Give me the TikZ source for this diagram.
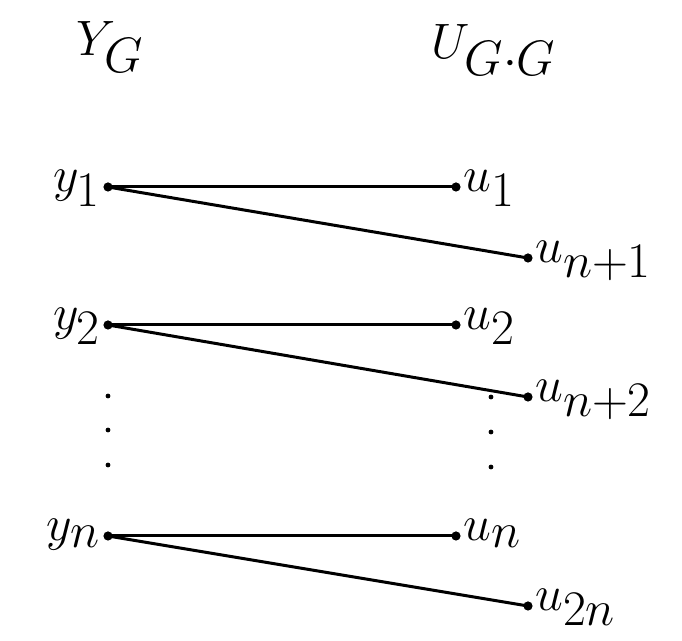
\documentclass[tikz,border=0pt]{standalone}
\usetikzlibrary{positioning}
\DeclareMathSizes{28}{28}{24}{16}
\DeclareMathSizes{34}{34}{26}{18}
\begin{document}
\begin{tikzpicture}[
  x=0.5pt, y=-0.5pt,
  dot/.style={circle, fill, inner sep=0pt, minimum size=4.6pt},
  vdot/.style={circle, fill, inner sep=0pt, minimum size=2.4pt},
  lbl/.style={font=\fontsize{28}{32}\selectfont, inner sep=1pt},
  lblr/.style={lbl, anchor=mid west},
  lbll/.style={lbl, anchor=mid east},
  head/.style={font=\fontsize{34}{40}\selectfont, inner sep=0pt},
  edge/.style={line width=1.5pt}
]
  \useasboundingbox (0,0) rectangle (682,641);

  % column headings
  \node[head] (yg) at (110,47) {$Y_G$};
  \node[head] (ugg) at (494,50) {$U_{G\cdot G}$};

  % left column
  \node[dot, label={[lbll]left:$y_1$}] (y1) at (108,187) {};
  \node[dot, label={[lbll]left:$y_2$}] (y2) at (108,325) {};
  \node[dot, label={[lbll]left:$y_n$}] (yn) at (108,536) {};

  % right column
  \node[dot, label={[lblr]right:$u_1$}] (u1) at (456,187) {};
  \node[dot, label={[lblr]right:$u_{n+1}$}] (un1) at (528,258) {};
  \node[dot, label={[lblr]right:$u_2$}] (u2) at (456,325) {};
  \node[dot, label={[lblr]right:$u_{n+2}$}] (un2) at (528,397) {};
  \node[dot, label={[lblr]right:$u_n$}] (un) at (456,536) {};
  \node[dot, label={[lblr]right:$u_{2n}$}] (u2n) at (528,606) {};

  % vertical dots
  \node[vdot] (la) at (108,396) {};
  \node[vdot] (lb) at (108,430) {};
  \node[vdot] (lc) at (108,465) {};
  \node[vdot] (ra) at (491,397) {};
  \node[vdot] (rb) at (491,432) {};
  \node[vdot] (rc) at (491,467) {};

  % edges
  \draw[edge] (y1.center) -- (u1.center);
  \draw[edge] (y1.center) -- (un1.center);
  \draw[edge] (y2.center) -- (u2.center);
  \draw[edge] (y2.center) -- (un2.center);
  \draw[edge] (yn.center) -- (un.center);
  \draw[edge] (yn.center) -- (u2n.center);
\end{tikzpicture}
\end{document}
